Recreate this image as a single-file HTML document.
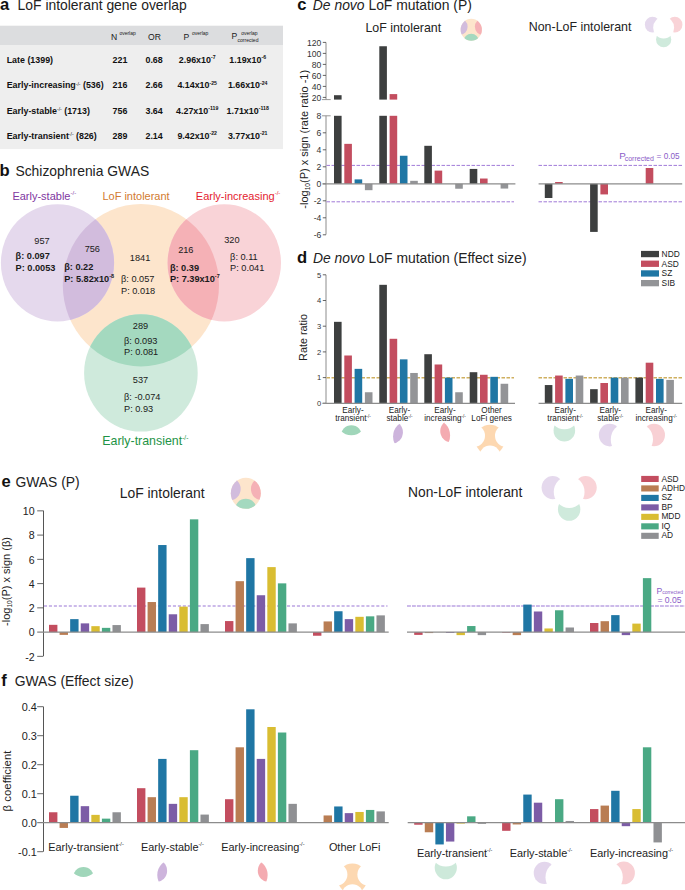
<!DOCTYPE html>
<html><head><meta charset="utf-8"><title>Figure</title><style>
html,body{margin:0;padding:0;background:#fff;width:685px;height:890px;overflow:hidden;}
svg{display:block;font-family:"Liberation Sans", sans-serif;}
</style></head><body>
<svg width="685" height="890" viewBox="0 0 685 890">
<defs>
<clipPath id="clipO" clipPathUnits="userSpaceOnUse"><ellipse cx="140.9" cy="285.2" rx="78.1" ry="81.2"/></clipPath>
<mask id="maskNotO" maskUnits="userSpaceOnUse" x="-20" y="180" width="330" height="270"><rect x="-20" y="180" width="330" height="270" fill="#fff"/><ellipse cx="140.9" cy="285.2" rx="78.1" ry="81.2" fill="#000"/></mask>
<mask id="maskOonly" maskUnits="userSpaceOnUse" x="-20" y="180" width="330" height="270"><ellipse cx="140.9" cy="285.2" rx="78.1" ry="81.2" fill="#fff"/><ellipse cx="57.5" cy="262.8" rx="56.6" ry="58.6" fill="#000"/><ellipse cx="224.3" cy="262.8" rx="56.7" ry="58.6" fill="#000"/><ellipse cx="140.9" cy="372.9" rx="56.8" ry="58.7" fill="#000"/></mask>
<g id="iLensP"><ellipse cx="57.5" cy="262.8" rx="56.6" ry="58.6" fill="#cdb4dc" clip-path="url(#clipO)"/></g>
<g id="iLensR"><ellipse cx="224.3" cy="262.8" rx="56.7" ry="58.6" fill="#f4abb1" clip-path="url(#clipO)"/></g>
<g id="iLensG"><ellipse cx="140.9" cy="372.9" rx="56.8" ry="58.7" fill="#a0d6ba" clip-path="url(#clipO)"/></g>
<g id="iOonly"><rect x="-20" y="180" width="330" height="270" fill="#fdd8b1" mask="url(#maskOonly)"/></g>
<g id="iCrP"><ellipse cx="57.5" cy="262.8" rx="56.6" ry="58.6" fill="#e3d6ec" mask="url(#maskNotO)"/></g>
<g id="iCrR"><ellipse cx="224.3" cy="262.8" rx="56.7" ry="58.6" fill="#f8d0d4" mask="url(#maskNotO)"/></g>
<g id="iCrG"><ellipse cx="140.9" cy="372.9" rx="56.8" ry="58.7" fill="#cde9da" mask="url(#maskNotO)"/></g>
<g id="iLoF"><ellipse cx="140.9" cy="285.2" rx="78.1" ry="81.2" fill="#fde5cc"/><ellipse cx="57.5" cy="262.8" rx="56.6" ry="58.6" fill="#d2bcdd" clip-path="url(#clipO)"/><ellipse cx="224.3" cy="262.8" rx="56.7" ry="58.6" fill="#f5b1b6" clip-path="url(#clipO)"/><ellipse cx="140.9" cy="372.9" rx="56.8" ry="58.7" fill="#a4d9bf" clip-path="url(#clipO)"/></g>
<g id="iNonLoF" mask="url(#maskNotO)"><ellipse cx="57.5" cy="262.8" rx="56.6" ry="58.6" fill="#e5d9ed" /><ellipse cx="224.3" cy="262.8" rx="56.7" ry="58.6" fill="#f9d3d7" /><ellipse cx="140.9" cy="372.9" rx="56.8" ry="58.7" fill="#cfeadc" /></g>
</defs>
<text x="0.10" y="9.80" font-size="16.6" text-anchor="start" fill="#111" font-weight="bold" >a</text>
<text x="17.60" y="9.80" font-size="13.9" text-anchor="start" fill="#222" >LoF intolerant gene overlap</text>
<rect x="0" y="25.7" width="283" height="19.3" fill="#dcdddf"/>
<rect x="0" y="45" width="283" height="104.1" fill="#eeeeee"/>
<text x="111.00" y="39.60" font-size="8.6" text-anchor="start" fill="#1a1a1a" >N</text><text x="119.40" y="35.20" font-size="5.0" text-anchor="start" fill="#1a1a1a" >overlap</text>
<text x="148.00" y="39.60" font-size="8.6" text-anchor="start" fill="#1a1a1a" >OR</text>
<text x="183.50" y="39.60" font-size="8.6" text-anchor="start" fill="#1a1a1a" >P</text><text x="192.00" y="35.20" font-size="5.0" text-anchor="start" fill="#1a1a1a" >overlap</text>
<text x="231.40" y="39.40" font-size="8.6" text-anchor="start" fill="#1a1a1a" >P</text><text x="241.20" y="34.80" font-size="5.0" text-anchor="start" fill="#1a1a1a" >overlap</text><text x="237.60" y="41.90" font-size="5.0" text-anchor="start" fill="#1a1a1a" >corrected</text>
<text x="6.70" y="62.90" font-size="8.9" text-anchor="start" fill="#111" font-weight="bold" >Late (1399)</text>
<text x="120.00" y="62.90" font-size="8.9" text-anchor="middle" fill="#111" font-weight="bold" >221</text>
<text x="154.10" y="62.90" font-size="8.9" text-anchor="middle" fill="#111" font-weight="bold" >0.68</text>
<text x="197.2" y="62.9" font-size="8.9" font-weight="bold" fill="#111" text-anchor="middle">2.96x10<tspan font-size="5.2" dy="-3.6">-7</tspan></text>
<text x="247.7" y="62.9" font-size="8.9" font-weight="bold" fill="#111" text-anchor="middle">1.19x10<tspan font-size="5.2" dy="-3.6">-6</tspan></text>
<text x="6.7" y="88.2" font-size="8.9" font-weight="bold" fill="#111">Early-increasing<tspan font-size="5" font-weight="normal" dy="-2.6">-/-</tspan><tspan dy="2.6"> (536)</tspan></text>
<text x="120.00" y="88.20" font-size="8.9" text-anchor="middle" fill="#111" font-weight="bold" >216</text>
<text x="154.10" y="88.20" font-size="8.9" text-anchor="middle" fill="#111" font-weight="bold" >2.66</text>
<text x="197.2" y="88.2" font-size="8.9" font-weight="bold" fill="#111" text-anchor="middle">4.14x10<tspan font-size="5.2" dy="-3.6">-25</tspan></text>
<text x="247.7" y="88.2" font-size="8.9" font-weight="bold" fill="#111" text-anchor="middle">1.66x10<tspan font-size="5.2" dy="-3.6">-24</tspan></text>
<text x="6.7" y="113.5" font-size="8.9" font-weight="bold" fill="#111">Early-stable<tspan font-size="5" font-weight="normal" dy="-2.6">-/-</tspan><tspan dy="2.6"> (1713)</tspan></text>
<text x="120.00" y="113.50" font-size="8.9" text-anchor="middle" fill="#111" font-weight="bold" >756</text>
<text x="154.10" y="113.50" font-size="8.9" text-anchor="middle" fill="#111" font-weight="bold" >3.64</text>
<text x="197.2" y="113.5" font-size="8.9" font-weight="bold" fill="#111" text-anchor="middle">4.27x10<tspan font-size="5.2" dy="-3.6">-119</tspan></text>
<text x="247.7" y="113.5" font-size="8.9" font-weight="bold" fill="#111" text-anchor="middle">1.71x10<tspan font-size="5.2" dy="-3.6">-118</tspan></text>
<text x="6.7" y="138.8" font-size="8.9" font-weight="bold" fill="#111">Early-transient<tspan font-size="5" font-weight="normal" dy="-2.6">-/-</tspan><tspan dy="2.6"> (826)</tspan></text>
<text x="120.00" y="138.80" font-size="8.9" text-anchor="middle" fill="#111" font-weight="bold" >289</text>
<text x="154.10" y="138.80" font-size="8.9" text-anchor="middle" fill="#111" font-weight="bold" >2.14</text>
<text x="197.2" y="138.8" font-size="8.9" font-weight="bold" fill="#111" text-anchor="middle">9.42x10<tspan font-size="5.2" dy="-3.6">-22</tspan></text>
<text x="247.7" y="138.8" font-size="8.9" font-weight="bold" fill="#111" text-anchor="middle">3.77x10<tspan font-size="5.2" dy="-3.6">-21</tspan></text>
<text x="-0.50" y="175.60" font-size="16.6" text-anchor="start" fill="#111" font-weight="bold" >b</text>
<text x="15.40" y="175.60" font-size="13.9" text-anchor="start" fill="#222" >Schizophrenia GWAS</text>
<ellipse cx="140.9" cy="285.2" rx="78.1" ry="81.2" fill="#fde5cc"/>
<ellipse cx="57.5" cy="262.8" rx="56.6" ry="58.6" fill="#e5d9ed"/>
<ellipse cx="224.3" cy="262.8" rx="56.7" ry="58.6" fill="#f9d3d7"/>
<ellipse cx="140.9" cy="372.9" rx="56.8" ry="58.7" fill="#cfeadc"/>
<ellipse cx="57.5" cy="262.8" rx="56.6" ry="58.6" fill="#d2bcdd" clip-path="url(#clipO)"/>
<ellipse cx="224.3" cy="262.8" rx="56.7" ry="58.6" fill="#f5b1b6" clip-path="url(#clipO)"/>
<ellipse cx="140.9" cy="372.9" rx="56.8" ry="58.7" fill="#a4d9bf" clip-path="url(#clipO)"/>
<text x="12.4" y="199.5" font-size="11" fill="#80369f">Early-stable<tspan font-size="6" dy="-4.5">-/-</tspan></text>
<text x="102.40" y="199.50" font-size="11" text-anchor="start" fill="#d27a30" >LoF intolerant</text>
<text x="195.8" y="199.5" font-size="11" fill="#e4222f">Early-increasing<tspan font-size="6" dy="-4.5">-/-</tspan></text>
<text x="102.3" y="445.0" font-size="12.4" fill="#1e9346">Early-transient<tspan font-size="6.5" dy="-5">-/-</tspan></text>
<text x="42.00" y="243.60" font-size="9.2" text-anchor="middle" fill="#1a1a1a" >957</text>
<text x="15.60" y="259.30" font-size="9.2" text-anchor="start" fill="#1a1a1a" font-weight="bold" >β: 0.097</text>
<text x="15.60" y="271.40" font-size="9.2" text-anchor="start" fill="#1a1a1a" font-weight="bold" >P: 0.0053</text>
<text x="92.30" y="252.30" font-size="9.2" text-anchor="middle" fill="#1a1a1a" >756</text>
<text x="64.20" y="270.00" font-size="9.2" text-anchor="start" fill="#1a1a1a" font-weight="bold" >β: 0.22</text>
<text x="64.2" y="281.6" font-size="9.2" font-weight="bold" fill="#1a1a1a">P: 5.82x10<tspan font-size="5.5" dy="-3.6">-8</tspan></text>
<text x="140.10" y="260.60" font-size="9.2" text-anchor="middle" fill="#1a1a1a" >1841</text>
<text x="121.00" y="282.20" font-size="9.2" text-anchor="start" fill="#1a1a1a" >β: 0.057</text>
<text x="121.00" y="294.00" font-size="9.2" text-anchor="start" fill="#1a1a1a" >P: 0.018</text>
<text x="185.80" y="252.70" font-size="9.2" text-anchor="middle" fill="#1a1a1a" >216</text>
<text x="169.90" y="270.80" font-size="9.2" text-anchor="start" fill="#1a1a1a" font-weight="bold" >β: 0.39</text>
<text x="169.9" y="281.6" font-size="9.2" font-weight="bold" fill="#1a1a1a">P: 7.39x10<tspan font-size="5.5" dy="-3.6">-7</tspan></text>
<text x="231.90" y="243.30" font-size="9.2" text-anchor="middle" fill="#1a1a1a" >320</text>
<text x="230.10" y="260.00" font-size="9.2" text-anchor="start" fill="#1a1a1a" >β: 0.11</text>
<text x="230.10" y="271.40" font-size="9.2" text-anchor="start" fill="#1a1a1a" >P: 0.041</text>
<text x="140.50" y="329.20" font-size="9.2" text-anchor="middle" fill="#1a1a1a" >289</text>
<text x="124.00" y="344.10" font-size="9.2" text-anchor="start" fill="#1a1a1a" >β: 0.093</text>
<text x="124.00" y="355.20" font-size="9.2" text-anchor="start" fill="#1a1a1a" >P: 0.081</text>
<text x="140.50" y="382.60" font-size="9.2" text-anchor="middle" fill="#1a1a1a" >537</text>
<text x="124.00" y="400.40" font-size="9.2" text-anchor="start" fill="#1a1a1a" >β: -0.074</text>
<text x="124.00" y="412.10" font-size="9.2" text-anchor="start" fill="#1a1a1a" >P: 0.93</text>
<text x="297.30" y="10.10" font-size="16.6" text-anchor="start" fill="#111" font-weight="bold" >c</text>
<text x="312.8" y="10.1" font-size="13.9" fill="#222"><tspan font-style="italic">De novo</tspan> LoF mutation (P)</text>
<text x="403.30" y="32.30" font-size="12.4" text-anchor="middle" fill="#222" >LoF intolerant</text>
<text x="580.10" y="31.30" font-size="12.4" text-anchor="middle" fill="#222" >Non-LoF intolerant</text>
<use href="#iLoF" transform="translate(452.09,-8.99) scale(0.136)"/>
<use href="#iNonLoF" transform="translate(644.76,-10.55) scale(0.134)"/>
<line x1="326.0" y1="42.4" x2="326.0" y2="99.4" stroke="#8c8c8c" stroke-width="1.0"/>
<line x1="322.8" y1="97.4" x2="326.0" y2="97.4" stroke="#555555" stroke-width="0.9"/>
<text x="321.30" y="100.50" font-size="8.6" text-anchor="end" fill="#333" >20</text>
<line x1="322.8" y1="86.4" x2="326.0" y2="86.4" stroke="#555555" stroke-width="0.9"/>
<text x="321.30" y="89.50" font-size="8.6" text-anchor="end" fill="#333" >40</text>
<line x1="322.8" y1="75.4" x2="326.0" y2="75.4" stroke="#555555" stroke-width="0.9"/>
<text x="321.30" y="78.50" font-size="8.6" text-anchor="end" fill="#333" >60</text>
<line x1="322.8" y1="64.4" x2="326.0" y2="64.4" stroke="#555555" stroke-width="0.9"/>
<text x="321.30" y="67.50" font-size="8.6" text-anchor="end" fill="#333" >80</text>
<line x1="322.8" y1="53.4" x2="326.0" y2="53.4" stroke="#555555" stroke-width="0.9"/>
<text x="321.30" y="56.50" font-size="8.6" text-anchor="end" fill="#333" >100</text>
<line x1="322.8" y1="42.4" x2="326.0" y2="42.4" stroke="#555555" stroke-width="0.9"/>
<text x="321.30" y="45.50" font-size="8.6" text-anchor="end" fill="#333" >120</text>
<line x1="321.9" y1="99.6" x2="330.7" y2="99.6" stroke="#8c8c8c" stroke-width="0.9"/>
<line x1="321.9" y1="115.8" x2="330.7" y2="115.8" stroke="#8c8c8c" stroke-width="0.9"/>
<line x1="326.0" y1="115.8" x2="326.0" y2="234.6" stroke="#8c8c8c" stroke-width="1.0"/>
<text x="321.30" y="118.90" font-size="8.6" text-anchor="end" fill="#333" >8</text>
<line x1="322.8" y1="132.8" x2="326.0" y2="132.8" stroke="#555555" stroke-width="0.9"/>
<text x="321.30" y="135.90" font-size="8.6" text-anchor="end" fill="#333" >6</text>
<line x1="322.8" y1="149.8" x2="326.0" y2="149.8" stroke="#555555" stroke-width="0.9"/>
<text x="321.30" y="152.90" font-size="8.6" text-anchor="end" fill="#333" >4</text>
<line x1="322.8" y1="166.8" x2="326.0" y2="166.8" stroke="#555555" stroke-width="0.9"/>
<text x="321.30" y="169.90" font-size="8.6" text-anchor="end" fill="#333" >2</text>
<line x1="322.8" y1="183.8" x2="326.0" y2="183.8" stroke="#555555" stroke-width="0.9"/>
<text x="321.30" y="186.90" font-size="8.6" text-anchor="end" fill="#333" >0</text>
<line x1="322.8" y1="200.8" x2="326.0" y2="200.8" stroke="#555555" stroke-width="0.9"/>
<text x="321.30" y="203.90" font-size="8.6" text-anchor="end" fill="#333" >-2</text>
<line x1="322.8" y1="217.8" x2="326.0" y2="217.8" stroke="#555555" stroke-width="0.9"/>
<text x="321.30" y="220.90" font-size="8.6" text-anchor="end" fill="#333" >-4</text>
<line x1="322.8" y1="234.8" x2="326.0" y2="234.8" stroke="#555555" stroke-width="0.9"/>
<text x="321.30" y="237.90" font-size="8.6" text-anchor="end" fill="#333" >-6</text>
<line x1="326.5" y1="165.4" x2="514.0" y2="165.4" stroke="#a07ad8" stroke-width="1.0" stroke-dasharray="3.5 1.5"/>
<line x1="538.5" y1="165.4" x2="682.5" y2="165.4" stroke="#a07ad8" stroke-width="1.0" stroke-dasharray="3.5 1.5"/>
<line x1="326.5" y1="201.8" x2="514.0" y2="201.8" stroke="#a07ad8" stroke-width="1.0" stroke-dasharray="3.5 1.5"/>
<line x1="538.5" y1="201.8" x2="682.5" y2="201.8" stroke="#a07ad8" stroke-width="1.0" stroke-dasharray="3.5 1.5"/>
<rect x="334.00" y="115.80" width="7.6" height="68.00" fill="#3d3f3f"/>
<rect x="344.30" y="143.85" width="7.6" height="39.95" fill="#c34d5f"/>
<rect x="354.60" y="179.38" width="7.6" height="4.42" fill="#1f76a4"/>
<rect x="364.90" y="183.80" width="7.6" height="6.38" fill="#939497"/>
<rect x="334.00" y="95.20" width="7.6" height="4.40" fill="#3d3f3f"/>
<rect x="379.30" y="115.80" width="7.6" height="68.00" fill="#3d3f3f"/>
<rect x="389.60" y="115.80" width="7.6" height="68.00" fill="#c34d5f"/>
<rect x="399.90" y="155.75" width="7.6" height="28.05" fill="#1f76a4"/>
<rect x="410.20" y="180.83" width="7.6" height="2.97" fill="#939497"/>
<rect x="379.30" y="46.25" width="7.6" height="53.35" fill="#3d3f3f"/>
<rect x="389.60" y="94.10" width="7.6" height="5.50" fill="#c34d5f"/>
<rect x="424.30" y="145.81" width="7.6" height="37.99" fill="#3d3f3f"/>
<rect x="434.60" y="170.62" width="7.6" height="13.18" fill="#c34d5f"/>
<rect x="455.20" y="183.80" width="7.6" height="4.93" fill="#939497"/>
<rect x="469.70" y="168.93" width="7.6" height="14.88" fill="#3d3f3f"/>
<rect x="480.00" y="178.53" width="7.6" height="5.27" fill="#c34d5f"/>
<rect x="500.60" y="183.80" width="7.6" height="4.76" fill="#939497"/>
<rect x="544.80" y="183.80" width="7.6" height="14.20" fill="#3d3f3f"/>
<rect x="555.10" y="182.02" width="7.6" height="1.78" fill="#c34d5f"/>
<rect x="590.10" y="183.80" width="7.6" height="48.11" fill="#3d3f3f"/>
<rect x="600.40" y="183.80" width="7.6" height="10.62" fill="#c34d5f"/>
<rect x="645.70" y="167.99" width="7.6" height="15.81" fill="#c34d5f"/>
<line x1="322.5" y1="183.8" x2="515.4" y2="183.8" stroke="#8c8c8c" stroke-width="1.3"/>
<line x1="538.6" y1="183.8" x2="682.2" y2="183.8" stroke="#8c8c8c" stroke-width="1.3"/>
<text transform="translate(307.9,139.3) rotate(-90)" font-size="11" text-anchor="middle" fill="#222">-log<tspan font-size="6.6" dy="2.2">10</tspan><tspan dy="-2.2">(P) x sign (rate ratio -1)</tspan></text>
<text x="619.20" y="159.00" font-size="9.8" text-anchor="start" fill="#8a5cc8" >P</text><text x="624.70" y="160.60" font-size="7.0" text-anchor="start" fill="#8a5cc8" >corrected</text><text x="656.60" y="159.00" font-size="8.2" text-anchor="start" fill="#8a5cc8" >= 0.05</text>
<text x="297.00" y="263.30" font-size="16.6" text-anchor="start" fill="#111" font-weight="bold" >d</text>
<text x="313.0" y="263.3" font-size="13.9" fill="#222"><tspan font-style="italic">De novo</tspan> LoF mutation (Effect size)</text>
<rect x="641" y="250.90" width="18" height="6.3" fill="#3d3f3f"/>
<text x="661.60" y="256.80" font-size="8.4" text-anchor="start" fill="#222" >NDD</text>
<rect x="641" y="260.60" width="18" height="6.3" fill="#c34d5f"/>
<text x="661.60" y="266.50" font-size="8.4" text-anchor="start" fill="#222" >ASD</text>
<rect x="641" y="270.30" width="18" height="6.3" fill="#1f76a4"/>
<text x="661.60" y="276.20" font-size="8.4" text-anchor="start" fill="#222" >SZ</text>
<rect x="641" y="280.00" width="18" height="6.3" fill="#939497"/>
<text x="661.60" y="285.90" font-size="8.4" text-anchor="start" fill="#222" >SIB</text>
<line x1="326.0" y1="274.8" x2="326.0" y2="403.3" stroke="#8c8c8c" stroke-width="1.0"/>
<line x1="322.8" y1="403.3" x2="326.0" y2="403.3" stroke="#555555" stroke-width="0.9"/>
<text x="321.30" y="406.10" font-size="7.6" text-anchor="end" fill="#333" >0</text>
<line x1="322.8" y1="377.6" x2="326.0" y2="377.6" stroke="#555555" stroke-width="0.9"/>
<text x="321.30" y="380.40" font-size="7.6" text-anchor="end" fill="#333" >1</text>
<line x1="322.8" y1="351.9" x2="326.0" y2="351.9" stroke="#555555" stroke-width="0.9"/>
<text x="321.30" y="354.70" font-size="7.6" text-anchor="end" fill="#333" >2</text>
<line x1="322.8" y1="326.2" x2="326.0" y2="326.2" stroke="#555555" stroke-width="0.9"/>
<text x="321.30" y="329.00" font-size="7.6" text-anchor="end" fill="#333" >3</text>
<line x1="322.8" y1="300.5" x2="326.0" y2="300.5" stroke="#555555" stroke-width="0.9"/>
<text x="321.30" y="303.30" font-size="7.6" text-anchor="end" fill="#333" >4</text>
<line x1="322.8" y1="274.8" x2="326.0" y2="274.8" stroke="#555555" stroke-width="0.9"/>
<text x="321.30" y="277.60" font-size="7.6" text-anchor="end" fill="#333" >5</text>
<line x1="326.5" y1="377.8" x2="514.0" y2="377.8" stroke="#cfb060" stroke-width="1.5" stroke-dasharray="3.5 1.5"/>
<line x1="538.5" y1="377.8" x2="682.5" y2="377.8" stroke="#cfb060" stroke-width="1.5" stroke-dasharray="3.5 1.5"/>
<rect x="334.00" y="321.83" width="7.6" height="81.47" fill="#3d3f3f"/>
<rect x="344.30" y="355.50" width="7.6" height="47.80" fill="#c34d5f"/>
<rect x="354.60" y="368.86" width="7.6" height="34.44" fill="#1f76a4"/>
<rect x="364.90" y="392.25" width="7.6" height="11.05" fill="#939497"/>
<rect x="379.30" y="284.82" width="7.6" height="118.48" fill="#3d3f3f"/>
<rect x="389.60" y="338.79" width="7.6" height="64.51" fill="#c34d5f"/>
<rect x="399.90" y="359.35" width="7.6" height="43.95" fill="#1f76a4"/>
<rect x="410.20" y="372.97" width="7.6" height="30.33" fill="#939497"/>
<rect x="424.30" y="354.21" width="7.6" height="49.09" fill="#3d3f3f"/>
<rect x="434.60" y="364.49" width="7.6" height="38.81" fill="#c34d5f"/>
<rect x="444.90" y="377.60" width="7.6" height="25.70" fill="#1f76a4"/>
<rect x="455.20" y="392.25" width="7.6" height="11.05" fill="#939497"/>
<rect x="469.70" y="372.20" width="7.6" height="31.10" fill="#3d3f3f"/>
<rect x="480.00" y="374.77" width="7.6" height="28.53" fill="#c34d5f"/>
<rect x="490.30" y="376.83" width="7.6" height="26.47" fill="#1f76a4"/>
<rect x="500.60" y="383.77" width="7.6" height="19.53" fill="#939497"/>
<rect x="544.80" y="385.05" width="7.6" height="18.25" fill="#3d3f3f"/>
<rect x="555.10" y="375.54" width="7.6" height="27.76" fill="#c34d5f"/>
<rect x="565.40" y="378.88" width="7.6" height="24.41" fill="#1f76a4"/>
<rect x="575.70" y="375.54" width="7.6" height="27.76" fill="#939497"/>
<rect x="590.10" y="389.17" width="7.6" height="14.14" fill="#3d3f3f"/>
<rect x="600.40" y="383.00" width="7.6" height="20.30" fill="#c34d5f"/>
<rect x="610.70" y="377.60" width="7.6" height="25.70" fill="#1f76a4"/>
<rect x="621.00" y="377.60" width="7.6" height="25.70" fill="#939497"/>
<rect x="635.40" y="377.60" width="7.6" height="25.70" fill="#3d3f3f"/>
<rect x="645.70" y="362.69" width="7.6" height="40.61" fill="#c34d5f"/>
<rect x="656.00" y="378.88" width="7.6" height="24.41" fill="#1f76a4"/>
<rect x="666.30" y="379.91" width="7.6" height="23.39" fill="#939497"/>
<line x1="322.5" y1="403.3" x2="515.0" y2="403.3" stroke="#8c8c8c" stroke-width="1.3"/>
<line x1="538.6" y1="403.3" x2="682.2" y2="403.3" stroke="#8c8c8c" stroke-width="1.3"/>
<text transform="translate(307.3,337.5) rotate(-90)" font-size="10.8" text-anchor="middle" fill="#222">Rate ratio</text>
<text x="353.00" y="412.80" font-size="8.2" text-anchor="middle" fill="#222" >Early-</text><text x="353.0" y="421.2" font-size="8.2" text-anchor="middle" fill="#222">transient<tspan font-size="4.5" dy="-3.2">-/-</tspan></text>
<text x="399.50" y="412.80" font-size="8.2" text-anchor="middle" fill="#222" >Early-</text><text x="399.5" y="421.2" font-size="8.2" text-anchor="middle" fill="#222">stable<tspan font-size="4.5" dy="-3.2">-/-</tspan></text>
<text x="445.00" y="412.80" font-size="8.2" text-anchor="middle" fill="#222" >Early-</text><text x="445.0" y="421.2" font-size="8.2" text-anchor="middle" fill="#222">increasing<tspan font-size="4.5" dy="-3.2">-/-</tspan></text>
<text x="491.60" y="412.80" font-size="8.2" text-anchor="middle" fill="#222" >Other</text><text x="491.60" y="421.20" font-size="8.2" text-anchor="middle" fill="#222" >LoFi genes</text>
<text x="565.20" y="412.80" font-size="8.2" text-anchor="middle" fill="#222" >Early-</text><text x="565.2" y="421.2" font-size="8.2" text-anchor="middle" fill="#222">transient<tspan font-size="4.5" dy="-3.2">-/-</tspan></text>
<text x="610.30" y="412.80" font-size="8.2" text-anchor="middle" fill="#222" >Early-</text><text x="610.3" y="421.2" font-size="8.2" text-anchor="middle" fill="#222">stable<tspan font-size="4.5" dy="-3.2">-/-</tspan></text>
<text x="656.20" y="412.80" font-size="8.2" text-anchor="middle" fill="#222" >Early-</text><text x="656.2" y="421.2" font-size="8.2" text-anchor="middle" fill="#222">increasing<tspan font-size="4.5" dy="-3.2">-/-</tspan></text>
<use href="#iLensG" transform="translate(324.57,365.54) scale(0.19)"/>
<use href="#iLensP" transform="translate(381.02,381.74) scale(0.192)"/>
<use href="#iLensR" transform="translate(408.05,380.64) scale(0.192)"/>
<use href="#iOonly" transform="translate(463.66,386.69) scale(0.187)"/>
<use href="#iCrG" transform="translate(537.58,359.60) scale(0.19)"/>
<use href="#iCrP" transform="translate(598.66,384.38) scale(0.193)"/>
<use href="#iCrR" transform="translate(610.75,384.28) scale(0.193)"/>
<text x="1.60" y="486.50" font-size="16.6" text-anchor="start" fill="#111" font-weight="bold" >e</text>
<text x="15.40" y="486.50" font-size="13.9" text-anchor="start" fill="#222" >GWAS (P)</text>
<text x="162.20" y="497.90" font-size="13.9" text-anchor="middle" fill="#222" >LoF intolerant</text>
<text x="465.20" y="497.00" font-size="13.8" text-anchor="middle" fill="#222" >Non-LoF intolerant</text>
<use href="#iLoF" transform="translate(218.75,438.48) scale(0.192)"/>
<use href="#iNonLoF" transform="translate(541.39,435.83) scale(0.197)"/>
<rect x="641.2" y="475.90" width="17.5" height="6.1" fill="#c34d5f"/>
<text x="661.40" y="481.50" font-size="8.4" text-anchor="start" fill="#222" >ASD</text>
<rect x="641.2" y="485.38" width="17.5" height="6.1" fill="#b97d53"/>
<text x="661.40" y="490.98" font-size="8.4" text-anchor="start" fill="#222" >ADHD</text>
<rect x="641.2" y="494.86" width="17.5" height="6.1" fill="#1f76a4"/>
<text x="661.40" y="500.46" font-size="8.4" text-anchor="start" fill="#222" >SZ</text>
<rect x="641.2" y="504.34" width="17.5" height="6.1" fill="#7c5ca6"/>
<text x="661.40" y="509.94" font-size="8.4" text-anchor="start" fill="#222" >BP</text>
<rect x="641.2" y="513.82" width="17.5" height="6.1" fill="#d9bd32"/>
<text x="661.40" y="519.42" font-size="8.4" text-anchor="start" fill="#222" >MDD</text>
<rect x="641.2" y="523.30" width="17.5" height="6.1" fill="#4aa984"/>
<text x="661.40" y="528.90" font-size="8.4" text-anchor="start" fill="#222" >IQ</text>
<rect x="641.2" y="532.78" width="17.5" height="6.1" fill="#8f9093"/>
<text x="661.40" y="538.38" font-size="8.4" text-anchor="start" fill="#222" >AD</text>
<line x1="43.5" y1="510.5" x2="43.5" y2="656.3" stroke="#555" stroke-width="1.0"/>
<line x1="37.2" y1="510.85" x2="43.0" y2="510.85" stroke="#555" stroke-width="0.9"/>
<text x="34.60" y="515.15" font-size="10.6" text-anchor="end" fill="#222" >10</text>
<line x1="37.2" y1="535.1" x2="43.0" y2="535.1" stroke="#555" stroke-width="0.9"/>
<text x="34.60" y="539.40" font-size="10.6" text-anchor="end" fill="#222" >8</text>
<line x1="37.2" y1="559.35" x2="43.0" y2="559.35" stroke="#555" stroke-width="0.9"/>
<text x="34.60" y="563.65" font-size="10.6" text-anchor="end" fill="#222" >6</text>
<line x1="37.2" y1="583.6" x2="43.0" y2="583.6" stroke="#555" stroke-width="0.9"/>
<text x="34.60" y="587.90" font-size="10.6" text-anchor="end" fill="#222" >4</text>
<line x1="37.2" y1="607.85" x2="43.0" y2="607.85" stroke="#555" stroke-width="0.9"/>
<text x="34.60" y="612.15" font-size="10.6" text-anchor="end" fill="#222" >2</text>
<line x1="37.2" y1="632.1" x2="43.0" y2="632.1" stroke="#555" stroke-width="0.9"/>
<text x="34.60" y="636.40" font-size="10.6" text-anchor="end" fill="#222" >0</text>
<line x1="37.2" y1="656.35" x2="43.0" y2="656.35" stroke="#555" stroke-width="0.9"/>
<text x="34.60" y="660.65" font-size="10.6" text-anchor="end" fill="#222" >-2</text>
<line x1="43.5" y1="606" x2="387.5" y2="606" stroke="#bca4e3" stroke-width="1.6" stroke-dasharray="3.1 1.86" stroke-dashoffset="-0.45"/>
<line x1="407.0" y1="606" x2="685" y2="606" stroke="#bca4e3" stroke-width="1.6" stroke-dasharray="3.9 1.06"/>
<rect x="49.00" y="624.83" width="8.4" height="7.27" fill="#c34d5f"/>
<rect x="59.58" y="632.10" width="8.4" height="2.79" fill="#b97d53"/>
<rect x="70.16" y="619.13" width="8.4" height="12.97" fill="#1f76a4"/>
<rect x="80.74" y="623.37" width="8.4" height="8.73" fill="#7c5ca6"/>
<rect x="91.32" y="626.16" width="8.4" height="5.94" fill="#d9bd32"/>
<rect x="101.90" y="627.86" width="8.4" height="4.24" fill="#4aa984"/>
<rect x="112.48" y="625.07" width="8.4" height="7.03" fill="#8f9093"/>
<rect x="137.00" y="587.60" width="8.4" height="44.50" fill="#c34d5f"/>
<rect x="147.58" y="602.03" width="8.4" height="30.07" fill="#b97d53"/>
<rect x="158.16" y="545.04" width="8.4" height="87.06" fill="#1f76a4"/>
<rect x="168.74" y="614.28" width="8.4" height="17.82" fill="#7c5ca6"/>
<rect x="179.32" y="606.64" width="8.4" height="25.46" fill="#d9bd32"/>
<rect x="189.90" y="519.34" width="8.4" height="112.76" fill="#4aa984"/>
<rect x="200.48" y="624.10" width="8.4" height="8.00" fill="#8f9093"/>
<rect x="225.00" y="621.07" width="8.4" height="11.03" fill="#c34d5f"/>
<rect x="235.58" y="581.18" width="8.4" height="50.93" fill="#b97d53"/>
<rect x="246.16" y="558.14" width="8.4" height="73.96" fill="#1f76a4"/>
<rect x="256.74" y="595.24" width="8.4" height="36.86" fill="#7c5ca6"/>
<rect x="267.32" y="567.11" width="8.4" height="64.99" fill="#d9bd32"/>
<rect x="277.90" y="583.36" width="8.4" height="48.74" fill="#4aa984"/>
<rect x="288.48" y="623.37" width="8.4" height="8.73" fill="#8f9093"/>
<rect x="313.00" y="632.10" width="8.4" height="3.64" fill="#c34d5f"/>
<rect x="323.58" y="621.43" width="8.4" height="10.67" fill="#b97d53"/>
<rect x="334.16" y="611.25" width="8.4" height="20.86" fill="#1f76a4"/>
<rect x="344.74" y="619.13" width="8.4" height="12.97" fill="#7c5ca6"/>
<rect x="355.32" y="616.82" width="8.4" height="15.28" fill="#d9bd32"/>
<rect x="365.90" y="616.34" width="8.4" height="15.76" fill="#4aa984"/>
<rect x="376.48" y="615.37" width="8.4" height="16.73" fill="#8f9093"/>
<rect x="414.20" y="632.10" width="8.4" height="2.79" fill="#c34d5f"/>
<rect x="424.78" y="632.10" width="8.4" height="0.97" fill="#b97d53"/>
<rect x="445.94" y="632.10" width="8.4" height="0.85" fill="#7c5ca6"/>
<rect x="456.52" y="632.10" width="8.4" height="3.03" fill="#d9bd32"/>
<rect x="467.10" y="626.04" width="8.4" height="6.06" fill="#4aa984"/>
<rect x="477.68" y="632.10" width="8.4" height="3.03" fill="#8f9093"/>
<rect x="502.10" y="632.10" width="8.4" height="0.61" fill="#c34d5f"/>
<rect x="512.68" y="632.10" width="8.4" height="3.03" fill="#b97d53"/>
<rect x="523.26" y="604.58" width="8.4" height="27.52" fill="#1f76a4"/>
<rect x="533.84" y="611.49" width="8.4" height="20.61" fill="#7c5ca6"/>
<rect x="544.42" y="628.46" width="8.4" height="3.64" fill="#d9bd32"/>
<rect x="555.00" y="610.27" width="8.4" height="21.82" fill="#4aa984"/>
<rect x="565.58" y="627.49" width="8.4" height="4.61" fill="#8f9093"/>
<rect x="590.00" y="623.01" width="8.4" height="9.09" fill="#c34d5f"/>
<rect x="600.58" y="621.19" width="8.4" height="10.91" fill="#b97d53"/>
<rect x="611.16" y="615.12" width="8.4" height="16.97" fill="#1f76a4"/>
<rect x="621.74" y="632.10" width="8.4" height="3.03" fill="#7c5ca6"/>
<rect x="632.32" y="623.61" width="8.4" height="8.49" fill="#d9bd32"/>
<rect x="642.90" y="578.14" width="8.4" height="53.96" fill="#4aa984"/>
<line x1="43.0" y1="632.1" x2="388.7" y2="632.1" stroke="#8c8c8c" stroke-width="1.3"/>
<line x1="407.0" y1="632.1" x2="685" y2="632.1" stroke="#8c8c8c" stroke-width="1.3"/>
<text transform="translate(10.2,581.5) rotate(-90)" font-size="11" text-anchor="middle" fill="#222">-log<tspan font-size="6.6" dy="2.2">10</tspan><tspan dy="-2.2">(P) x sign (β)</tspan></text>
<text x="656.4" y="594.0" font-size="8.6" fill="#8a5cc8">P<tspan font-size="5.0">corrected</tspan></text>
<text x="657.40" y="602.90" font-size="8.6" text-anchor="start" fill="#8a5cc8" >= 0.05</text>
<text x="1.20" y="685.70" font-size="16.6" text-anchor="start" fill="#111" font-weight="bold" >f</text>
<text x="14.70" y="685.70" font-size="13.9" text-anchor="start" fill="#222" >GWAS (Effect size)</text>
<line x1="43.5" y1="706.5" x2="43.5" y2="851.7" stroke="#555" stroke-width="1.0"/>
<line x1="37.2" y1="706.7" x2="43.0" y2="706.7" stroke="#555" stroke-width="0.9"/>
<text x="36.80" y="710.60" font-size="10.9" text-anchor="end" fill="#222" >0.4</text>
<line x1="37.2" y1="735.7" x2="43.0" y2="735.7" stroke="#555" stroke-width="0.9"/>
<text x="36.80" y="739.60" font-size="10.9" text-anchor="end" fill="#222" >0.3</text>
<line x1="37.2" y1="764.7" x2="43.0" y2="764.7" stroke="#555" stroke-width="0.9"/>
<text x="36.80" y="768.60" font-size="10.9" text-anchor="end" fill="#222" >0.2</text>
<line x1="37.2" y1="793.7" x2="43.0" y2="793.7" stroke="#555" stroke-width="0.9"/>
<text x="36.80" y="797.60" font-size="10.9" text-anchor="end" fill="#222" >0.1</text>
<line x1="37.2" y1="822.7" x2="43.0" y2="822.7" stroke="#555" stroke-width="0.9"/>
<text x="36.80" y="826.60" font-size="10.9" text-anchor="end" fill="#222" >0.0</text>
<line x1="37.2" y1="851.7" x2="43.0" y2="851.7" stroke="#555" stroke-width="0.9"/>
<text x="36.80" y="855.60" font-size="10.9" text-anchor="end" fill="#222" >-0.1</text>
<rect x="49.00" y="812.26" width="8.4" height="10.44" fill="#c34d5f"/>
<rect x="59.58" y="822.70" width="8.4" height="5.22" fill="#b97d53"/>
<rect x="70.16" y="795.73" width="8.4" height="26.97" fill="#1f76a4"/>
<rect x="80.74" y="806.17" width="8.4" height="16.53" fill="#7c5ca6"/>
<rect x="91.32" y="814.87" width="8.4" height="7.83" fill="#d9bd32"/>
<rect x="101.90" y="818.64" width="8.4" height="4.06" fill="#4aa984"/>
<rect x="112.48" y="812.26" width="8.4" height="10.44" fill="#8f9093"/>
<rect x="137.00" y="788.19" width="8.4" height="34.51" fill="#c34d5f"/>
<rect x="147.58" y="797.18" width="8.4" height="25.52" fill="#b97d53"/>
<rect x="158.16" y="758.90" width="8.4" height="63.80" fill="#1f76a4"/>
<rect x="168.74" y="803.85" width="8.4" height="18.85" fill="#7c5ca6"/>
<rect x="179.32" y="797.18" width="8.4" height="25.52" fill="#d9bd32"/>
<rect x="189.90" y="750.20" width="8.4" height="72.50" fill="#4aa984"/>
<rect x="200.48" y="814.58" width="8.4" height="8.12" fill="#8f9093"/>
<rect x="225.00" y="799.21" width="8.4" height="23.49" fill="#c34d5f"/>
<rect x="235.58" y="747.30" width="8.4" height="75.40" fill="#b97d53"/>
<rect x="246.16" y="709.31" width="8.4" height="113.39" fill="#1f76a4"/>
<rect x="256.74" y="758.90" width="8.4" height="63.80" fill="#7c5ca6"/>
<rect x="267.32" y="727.00" width="8.4" height="95.70" fill="#d9bd32"/>
<rect x="277.90" y="732.51" width="8.4" height="90.19" fill="#4aa984"/>
<rect x="288.48" y="803.85" width="8.4" height="18.85" fill="#8f9093"/>
<rect x="323.58" y="815.45" width="8.4" height="7.25" fill="#b97d53"/>
<rect x="334.16" y="806.46" width="8.4" height="16.24" fill="#1f76a4"/>
<rect x="344.74" y="813.13" width="8.4" height="9.57" fill="#7c5ca6"/>
<rect x="355.32" y="811.97" width="8.4" height="10.73" fill="#d9bd32"/>
<rect x="365.90" y="809.94" width="8.4" height="12.76" fill="#4aa984"/>
<rect x="376.48" y="811.39" width="8.4" height="11.31" fill="#8f9093"/>
<rect x="414.20" y="822.70" width="8.4" height="2.03" fill="#c34d5f"/>
<rect x="424.78" y="822.70" width="8.4" height="9.57" fill="#b97d53"/>
<rect x="435.36" y="822.70" width="8.4" height="21.75" fill="#1f76a4"/>
<rect x="445.94" y="822.70" width="8.4" height="18.85" fill="#7c5ca6"/>
<rect x="456.52" y="822.70" width="8.4" height="0.87" fill="#d9bd32"/>
<rect x="467.10" y="816.32" width="8.4" height="6.38" fill="#4aa984"/>
<rect x="477.68" y="822.70" width="8.4" height="1.16" fill="#8f9093"/>
<rect x="502.10" y="822.70" width="8.4" height="8.12" fill="#c34d5f"/>
<rect x="512.68" y="822.70" width="8.4" height="1.74" fill="#b97d53"/>
<rect x="523.26" y="794.57" width="8.4" height="28.13" fill="#1f76a4"/>
<rect x="533.84" y="802.69" width="8.4" height="20.01" fill="#7c5ca6"/>
<rect x="555.00" y="799.21" width="8.4" height="23.49" fill="#4aa984"/>
<rect x="565.58" y="820.96" width="8.4" height="1.74" fill="#8f9093"/>
<rect x="590.00" y="809.07" width="8.4" height="13.63" fill="#c34d5f"/>
<rect x="600.58" y="805.59" width="8.4" height="17.11" fill="#b97d53"/>
<rect x="611.16" y="790.80" width="8.4" height="31.90" fill="#1f76a4"/>
<rect x="621.74" y="822.70" width="8.4" height="3.48" fill="#7c5ca6"/>
<rect x="632.32" y="809.07" width="8.4" height="13.63" fill="#d9bd32"/>
<rect x="642.90" y="747.30" width="8.4" height="75.40" fill="#4aa984"/>
<rect x="653.48" y="822.70" width="8.4" height="19.72" fill="#8f9093"/>
<line x1="43.0" y1="822.7" x2="388.7" y2="822.7" stroke="#8c8c8c" stroke-width="1.3"/>
<line x1="407.7" y1="822.7" x2="685" y2="822.7" stroke="#8c8c8c" stroke-width="1.3"/>
<text transform="translate(10.6,781) rotate(-90)" font-size="11.4" text-anchor="middle" fill="#222">β coefficient</text>
<text x="48.3" y="850.5" font-size="10.9" fill="#222">Early-transient<tspan font-size="5.5" dy="-4.3">-/-</tspan></text>
<text x="141.0" y="850.5" font-size="10.9" fill="#222">Early-stable<tspan font-size="5.5" dy="-4.3">-/-</tspan></text>
<text x="221.2" y="850.5" font-size="10.9" fill="#222">Early-increasing<tspan font-size="5.5" dy="-4.3">-/-</tspan></text>
<text x="328.90" y="850.50" font-size="10.9" text-anchor="start" fill="#222" >Other LoFi</text>
<text x="416.9" y="856.7" font-size="10.9" fill="#222">Early-transient<tspan font-size="5.5" dy="-4.3">-/-</tspan></text>
<text x="509.7" y="856.7" font-size="10.9" fill="#222">Early-stable<tspan font-size="5.5" dy="-4.3">-/-</tspan></text>
<text x="589.9" y="856.7" font-size="10.9" fill="#222">Early-increasing<tspan font-size="5.5" dy="-4.3">-/-</tspan></text>
<use href="#iLensG" transform="translate(56.95,808.02) scale(0.188)"/>
<use href="#iLensP" transform="translate(145.22,820.29) scale(0.192)"/>
<use href="#iLensR" transform="translate(225.60,820.34) scale(0.192)"/>
<use href="#iOonly" transform="translate(326.06,825.39) scale(0.187)"/>
<use href="#iCrG" transform="translate(418.33,795.11) scale(0.195)"/>
<use href="#iCrP" transform="translate(533.56,822.97) scale(0.19)"/>
<use href="#iCrR" transform="translate(580.08,821.65) scale(0.195)"/>
</svg>
</body></html>
